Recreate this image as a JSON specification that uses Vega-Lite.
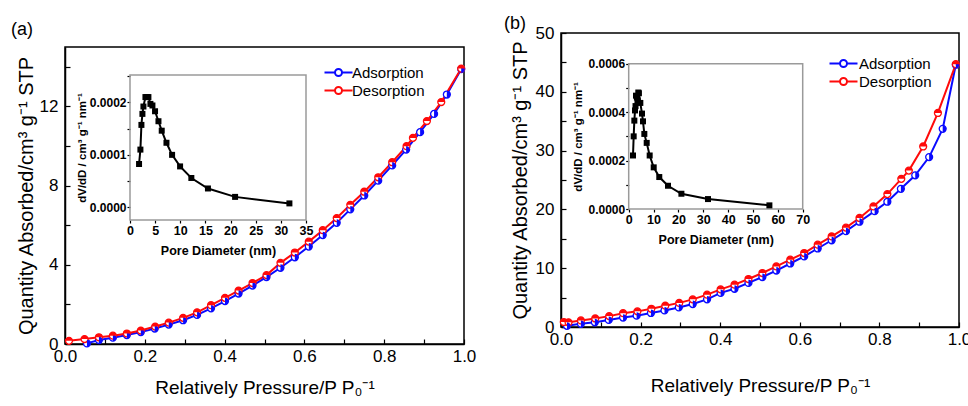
{
  "$schema": "https://vega.github.io/schema/vega-lite/v6.json",
  "padding": {"left": 10, "top": 4, "right": 5, "bottom": 0},
  "spacing": 26,
  "config": {
    "font": "Liberation Sans",
    "view": {"stroke": "black", "strokeWidth": 1.5},
    "axis": {"grid": false, "domainColor": "black", "tickColor": "black", "labelColor": "black", "titleColor": "black", "titleFontWeight": "normal", "labelFlush": false, "labelOverlap": false, "domainWidth": 1.5, "tickWidth": 1.2},
    "title": {"color": "black", "fontWeight": "normal", "fontSize": 18, "anchor": "start", "frame": "group"},
    "legend": {"labelColor": "black", "labelFont": "Liberation Sans"}
  },
  "resolve": {"scale": {"color": "independent"}, "legend": {"color": "independent"}},
  "hconcat": [
    {"spacing": 15, "vconcat": [
    {"width": 1, "height": 1, "data": {"values": []}, "mark": {"type": "text"}, "encoding": {}, "view": {"stroke": null}},
    {
      "width": 399,
      "height": 297,
      "title": {"text": "(a)", "dx": -54, "offset": 8},
      "resolve": {"scale": {"x": "independent", "y": "independent"}, "axis": {"x": "independent", "y": "independent"}},
      "layer": [
        {
          "data": {"values": [
            {"p": 0.055, "v": 0.03, "s": "Adsorption"}, {"p": 0.085, "v": 0.2, "s": "Adsorption"}, {"p": 0.12, "v": 0.32, "s": "Adsorption"}, {"p": 0.155, "v": 0.45, "s": "Adsorption"}, {"p": 0.19, "v": 0.6, "s": "Adsorption"}, {"p": 0.225, "v": 0.78, "s": "Adsorption"}, {"p": 0.26, "v": 0.98, "s": "Adsorption"}, {"p": 0.296, "v": 1.2, "s": "Adsorption"}, {"p": 0.331, "v": 1.47, "s": "Adsorption"}, {"p": 0.366, "v": 1.8, "s": "Adsorption"}, {"p": 0.401, "v": 2.17, "s": "Adsorption"}, {"p": 0.435, "v": 2.55, "s": "Adsorption"}, {"p": 0.47, "v": 2.95, "s": "Adsorption"}, {"p": 0.505, "v": 3.38, "s": "Adsorption"}, {"p": 0.54, "v": 3.85, "s": "Adsorption"}, {"p": 0.576, "v": 4.38, "s": "Adsorption"}, {"p": 0.611, "v": 4.92, "s": "Adsorption"}, {"p": 0.646, "v": 5.5, "s": "Adsorption"}, {"p": 0.681, "v": 6.12, "s": "Adsorption"}, {"p": 0.715, "v": 6.8, "s": "Adsorption"}, {"p": 0.75, "v": 7.5, "s": "Adsorption"}, {"p": 0.785, "v": 8.25, "s": "Adsorption"}, {"p": 0.82, "v": 9.02, "s": "Adsorption"}, {"p": 0.855, "v": 9.82, "s": "Adsorption"}, {"p": 0.89, "v": 10.7, "s": "Adsorption"}, {"p": 0.925, "v": 11.62, "s": "Adsorption"}, {"p": 0.957, "v": 12.6, "s": "Adsorption"}, {"p": 0.993, "v": 13.88, "s": "Adsorption"},
            {"p": 0.01, "v": 0.16, "s": "Desorption"}, {"p": 0.049, "v": 0.25, "s": "Desorption"}, {"p": 0.085, "v": 0.34, "s": "Desorption"}, {"p": 0.12, "v": 0.42, "s": "Desorption"}, {"p": 0.155, "v": 0.53, "s": "Desorption"}, {"p": 0.19, "v": 0.68, "s": "Desorption"}, {"p": 0.226, "v": 0.88, "s": "Desorption"}, {"p": 0.26, "v": 1.08, "s": "Desorption"}, {"p": 0.296, "v": 1.32, "s": "Desorption"}, {"p": 0.331, "v": 1.6, "s": "Desorption"}, {"p": 0.366, "v": 1.96, "s": "Desorption"}, {"p": 0.401, "v": 2.33, "s": "Desorption"}, {"p": 0.435, "v": 2.7, "s": "Desorption"}, {"p": 0.47, "v": 3.08, "s": "Desorption"}, {"p": 0.505, "v": 3.48, "s": "Desorption"}, {"p": 0.54, "v": 4.1, "s": "Desorption"}, {"p": 0.576, "v": 4.62, "s": "Desorption"}, {"p": 0.611, "v": 5.17, "s": "Desorption"}, {"p": 0.646, "v": 5.75, "s": "Desorption"}, {"p": 0.681, "v": 6.36, "s": "Desorption"}, {"p": 0.715, "v": 7.03, "s": "Desorption"}, {"p": 0.75, "v": 7.69, "s": "Desorption"}, {"p": 0.785, "v": 8.42, "s": "Desorption"}, {"p": 0.82, "v": 9.18, "s": "Desorption"}, {"p": 0.856, "v": 9.99, "s": "Desorption"}, {"p": 0.872, "v": 10.41, "s": "Desorption"}, {"p": 0.907, "v": 11.26, "s": "Desorption"}, {"p": 0.943, "v": 12.22, "s": "Desorption"}, {"p": 0.993, "v": 13.91, "s": "Desorption"}
          ]},
          "encoding": {
            "x": {"field": "p", "type": "quantitative", "scale": {"domain": [0, 1], "nice": false},
                  "axis": {"title": "Relatively Pressure/P P₀⁻¹", "values": [0, 0.1, 0.2, 0.3, 0.4, 0.5, 0.6, 0.7, 0.8, 0.9, 1], "labelExpr": "round(datum.value*10) % 2 == 0 ? format(datum.value, '.1f') : ''", "tickSize": -5, "labelPadding": 9, "labelFontSize": 17, "titleFontSize": 19, "titlePadding": 14}},
            "y": {"field": "v", "type": "quantitative", "scale": {"domain": [0, 15], "nice": false},
                  "axis": {"title": "Quantity Absorbed/cm³ g⁻¹ STP", "values": [0, 2, 4, 6, 8, 10, 12, 14], "labelExpr": "datum.value % 4 == 0 ? format(datum.value, 'd') : ''", "tickSize": -5, "labelPadding": 12, "labelFontSize": 17, "titleFontSize": 20, "titlePadding": 3}}
          },
          "layer": [
            {"mark": {"type": "line", "strokeWidth": 2},
             "encoding": {"color": {"field": "s", "type": "nominal", "scale": {"domain": ["Adsorption", "Desorption"], "range": ["#0a0aff", "#ff0a0a"]},
                      "legend": {"orient": "none", "legendX": 266, "legendY": 61, "title": null, "symbolType": "M-2.8,0H-0.7M0.7,0H2.8M-0.7,0A0.7,0.7 0 1,0 0.7,0A0.7,0.7 0 1,0 -0.7,0", "symbolSize": 100, "symbolStrokeWidth": 2, "labelFontSize": 15, "labelOffset": 6, "rowPadding": 2}}}},
            {"mark": {"type": "point", "shape": "circle", "filled": false, "fill": "white", "opacity": 1, "size": 48, "strokeWidth": 1.3},
             "encoding": {"stroke": {"field": "s", "type": "nominal", "scale": {"domain": ["Adsorption", "Desorption"], "range": ["#0a0aff", "#ff0a0a"]}, "legend": null}}},
            {"mark": {"type": "point", "filled": true, "opacity": 1, "size": 48},
             "encoding": {"fill": {"field": "s", "type": "nominal", "scale": {"domain": ["Adsorption", "Desorption"], "range": ["#0a0aff", "#ff0a0a"]}, "legend": null},
                          "shape": {"field": "s", "type": "nominal", "scale": {"domain": ["Adsorption", "Desorption"], "range": ["M0,-1A1,1 0 0,1 0,1Z", "M-1,0A1,1 0 0,1 1,0Z"]}, "legend": null}}}
          ]
        },
        {
          "data": {"values": [
            {"d": 1.8, "dv": 0.0000826}, {"d": 2.07, "dv": 0.00011}, {"d": 2.27, "dv": 0.000157}, {"d": 2.47, "dv": 0.000178}, {"d": 2.67, "dv": 0.000192}, {"d": 3.07, "dv": 0.00021}, {"d": 3.35, "dv": 0.00021}, {"d": 3.66, "dv": 0.00021}, {"d": 4.06, "dv": 0.000197}, {"d": 4.46, "dv": 0.000194}, {"d": 4.98, "dv": 0.000183}, {"d": 5.66, "dv": 0.000164}, {"d": 6.31, "dv": 0.000146}, {"d": 7.25, "dv": 0.000123}, {"d": 8.37, "dv": 0.0001}, {"d": 9.96, "dv": 0.000078}, {"d": 12.2, "dv": 0.000056}, {"d": 15.5, "dv": 0.000036}, {"d": 20.9, "dv": 0.00002}, {"d": 31.7, "dv": 0.0000076}
          ]},
          "encoding": {
            "x": {"field": "d", "type": "quantitative", "scale": {"domain": [0, 35], "range": [65, 241], "nice": false, "zero": false},
                  "axis": {"orient": "bottom", "offset": -124, "title": "Pore Diameter (nm)", "values": [0, 5, 10, 15, 20, 25, 30, 35], "domain": false, "tickSize": 3, "labelPadding": 1, "labelFontSize": 12.5, "labelFontWeight": "bold", "titleFontSize": 12.5, "titleFontWeight": "bold", "titlePadding": 8}},
            "y": {"field": "dv", "type": "quantitative", "scale": {"domain": [-0.000024, 0.000252], "range": [173, 28], "nice": false, "zero": false},
                  "axis": {"orient": "left", "offset": -65, "title": "dV/dD / cm³ g⁻¹ nm⁻¹", "values": [0, 0.00005, 0.0001, 0.00015, 0.0002, 0.00025], "labelExpr": "round(datum.value*20000) % 2 == 0 ? format(datum.value, '.4f') : ''", "domain": false, "tickSize": 3, "labelPadding": 1, "labelFontSize": 12, "labelFontWeight": "bold", "titleFontSize": 11.5, "titleFontWeight": "bold", "titlePadding": 2}}
          },
          "layer": [
            {"mark": {"type": "rect", "fill": "transparent", "stroke": "#9a9a9a", "strokeWidth": 1.5, "opacity": 1}, "data": {"values": [{"d0": 0, "d1": 35, "v0": -0.000024, "v1": 0.000252}]},
             "encoding": {"x": {"field": "d0", "type": "quantitative"}, "x2": {"field": "d1"}, "y": {"field": "v0", "type": "quantitative"}, "y2": {"field": "v1"}}},
            {"mark": {"type": "line", "color": "black", "strokeWidth": 2}},
            {"mark": {"type": "point", "shape": "square", "filled": true, "color": "black", "opacity": 1, "size": 36}}
          ]
        }
      ]
    }
    ]},
    {"spacing": 9, "vconcat": [
    {"width": 1, "height": 1, "data": {"values": []}, "mark": {"type": "text"}, "encoding": {}, "view": {"stroke": null}},
    {
      "width": 398,
      "height": 294,
      "title": {"text": "(b)", "dx": -57, "offset": -9},
      "resolve": {"scale": {"x": "independent", "y": "independent"}, "axis": {"x": "independent", "y": "independent"}},
      "layer": [
        {
          "data": {"values": [
            {"p": 0.015, "v": 0.2, "s": "Adsorption"}, {"p": 0.05, "v": 0.55, "s": "Adsorption"}, {"p": 0.085, "v": 0.8, "s": "Adsorption"}, {"p": 0.12, "v": 1.2, "s": "Adsorption"}, {"p": 0.156, "v": 1.6, "s": "Adsorption"}, {"p": 0.19, "v": 1.92, "s": "Adsorption"}, {"p": 0.226, "v": 2.38, "s": "Adsorption"}, {"p": 0.26, "v": 2.82, "s": "Adsorption"}, {"p": 0.296, "v": 3.33, "s": "Adsorption"}, {"p": 0.331, "v": 3.9, "s": "Adsorption"}, {"p": 0.367, "v": 4.7, "s": "Adsorption"}, {"p": 0.401, "v": 5.8, "s": "Adsorption"}, {"p": 0.436, "v": 6.5, "s": "Adsorption"}, {"p": 0.471, "v": 7.5, "s": "Adsorption"}, {"p": 0.506, "v": 8.5, "s": "Adsorption"}, {"p": 0.541, "v": 9.6, "s": "Adsorption"}, {"p": 0.576, "v": 10.8, "s": "Adsorption"}, {"p": 0.611, "v": 12.0, "s": "Adsorption"}, {"p": 0.645, "v": 13.35, "s": "Adsorption"}, {"p": 0.68, "v": 14.75, "s": "Adsorption"}, {"p": 0.716, "v": 16.3, "s": "Adsorption"}, {"p": 0.75, "v": 17.9, "s": "Adsorption"}, {"p": 0.788, "v": 19.7, "s": "Adsorption"}, {"p": 0.82, "v": 21.3, "s": "Adsorption"}, {"p": 0.854, "v": 23.5, "s": "Adsorption"}, {"p": 0.89, "v": 25.8, "s": "Adsorption"}, {"p": 0.925, "v": 28.9, "s": "Adsorption"}, {"p": 0.959, "v": 33.7, "s": "Adsorption"}, {"p": 0.992, "v": 44.6, "s": "Adsorption"},
            {"p": 0.007, "v": 0.85, "s": "Desorption"}, {"p": 0.019, "v": 0.8, "s": "Desorption"}, {"p": 0.05, "v": 1.12, "s": "Desorption"}, {"p": 0.086, "v": 1.45, "s": "Desorption"}, {"p": 0.121, "v": 1.85, "s": "Desorption"}, {"p": 0.156, "v": 2.35, "s": "Desorption"}, {"p": 0.192, "v": 2.66, "s": "Desorption"}, {"p": 0.227, "v": 3.1, "s": "Desorption"}, {"p": 0.262, "v": 3.62, "s": "Desorption"}, {"p": 0.297, "v": 4.1, "s": "Desorption"}, {"p": 0.331, "v": 4.7, "s": "Desorption"}, {"p": 0.367, "v": 5.5, "s": "Desorption"}, {"p": 0.401, "v": 6.4, "s": "Desorption"}, {"p": 0.436, "v": 7.2, "s": "Desorption"}, {"p": 0.471, "v": 8.16, "s": "Desorption"}, {"p": 0.506, "v": 9.18, "s": "Desorption"}, {"p": 0.541, "v": 10.3, "s": "Desorption"}, {"p": 0.576, "v": 11.45, "s": "Desorption"}, {"p": 0.611, "v": 12.58, "s": "Desorption"}, {"p": 0.645, "v": 14.0, "s": "Desorption"}, {"p": 0.68, "v": 15.4, "s": "Desorption"}, {"p": 0.716, "v": 16.9, "s": "Desorption"}, {"p": 0.75, "v": 18.54, "s": "Desorption"}, {"p": 0.785, "v": 20.5, "s": "Desorption"}, {"p": 0.82, "v": 22.6, "s": "Desorption"}, {"p": 0.855, "v": 25.2, "s": "Desorption"}, {"p": 0.874, "v": 26.6, "s": "Desorption"}, {"p": 0.91, "v": 30.7, "s": "Desorption"}, {"p": 0.947, "v": 36.4, "s": "Desorption"}, {"p": 0.992, "v": 44.7, "s": "Desorption"}
          ]},
          "encoding": {
            "x": {"field": "p", "type": "quantitative", "scale": {"domain": [0, 1], "nice": false},
                  "axis": {"title": "Relatively Pressure/P P₀⁻¹", "values": [0, 0.1, 0.2, 0.3, 0.4, 0.5, 0.6, 0.7, 0.8, 0.9, 1], "labelExpr": "round(datum.value*10) % 2 == 0 ? format(datum.value, '.1f') : ''", "tickSize": -5, "labelPadding": 9, "labelFontSize": 17, "titleFontSize": 19, "titlePadding": 29}},
            "y": {"field": "v", "type": "quantitative", "scale": {"domain": [0, 50], "nice": false},
                  "axis": {"title": "Quantity Absorbed/cm³ g⁻¹ STP", "values": [0, 5, 10, 15, 20, 25, 30, 35, 40, 45, 50], "labelExpr": "datum.value % 10 == 0 ? format(datum.value, 'd') : ''", "tickSize": -5, "labelPadding": 12, "labelFontSize": 17, "titleFontSize": 20, "titlePadding": 5}}
          },
          "layer": [
            {"mark": {"type": "line", "strokeWidth": 2},
             "encoding": {"color": {"field": "s", "type": "nominal", "scale": {"domain": ["Adsorption", "Desorption"], "range": ["#0a0aff", "#ff0a0a"]},
                      "legend": {"orient": "none", "legendX": 275, "legendY": 52, "title": null, "symbolType": "M-2.8,0H-0.7M0.7,0H2.8M-0.7,0A0.7,0.7 0 1,0 0.7,0A0.7,0.7 0 1,0 -0.7,0", "symbolSize": 100, "symbolStrokeWidth": 2, "labelFontSize": 15, "labelOffset": 8, "rowPadding": 2}}}},
            {"mark": {"type": "point", "shape": "circle", "filled": false, "fill": "white", "opacity": 1, "size": 48, "strokeWidth": 1.3},
             "encoding": {"stroke": {"field": "s", "type": "nominal", "scale": {"domain": ["Adsorption", "Desorption"], "range": ["#0a0aff", "#ff0a0a"]}, "legend": null}}},
            {"mark": {"type": "point", "filled": true, "opacity": 1, "size": 48},
             "encoding": {"fill": {"field": "s", "type": "nominal", "scale": {"domain": ["Adsorption", "Desorption"], "range": ["#0a0aff", "#ff0a0a"]}, "legend": null},
                          "shape": {"field": "s", "type": "nominal", "scale": {"domain": ["Adsorption", "Desorption"], "range": ["M0,-1A1,1 0 0,1 0,1Z", "M-1,0A1,1 0 0,1 1,0Z"]}, "legend": null}}}
          ]
        },
        {
          "data": {"values": [
            {"d": 1.73, "dv": 0.000221}, {"d": 2.0, "dv": 0.0003}, {"d": 2.27, "dv": 0.000365}, {"d": 2.54, "dv": 0.000407}, {"d": 2.75, "dv": 0.000425}, {"d": 2.94, "dv": 0.000468}, {"d": 3.3, "dv": 0.00046}, {"d": 3.6, "dv": 0.000448}, {"d": 3.87, "dv": 0.000481}, {"d": 4.1, "dv": 0.000478}, {"d": 4.68, "dv": 0.000438}, {"d": 5.35, "dv": 0.000394}, {"d": 5.75, "dv": 0.000362}, {"d": 6.29, "dv": 0.00031}, {"d": 7.24, "dv": 0.000273}, {"d": 8.44, "dv": 0.000221}, {"d": 10.06, "dv": 0.000172}, {"d": 12.3, "dv": 0.000132}, {"d": 15.8, "dv": 0.000096}, {"d": 21.2, "dv": 0.000063}, {"d": 31.9, "dv": 0.000041}, {"d": 56.6, "dv": 0.000015}
          ]},
          "encoding": {
            "x": {"field": "d", "type": "quantitative", "scale": {"domain": [0, 70], "range": [67.7, 241.7], "nice": false, "zero": false},
                  "axis": {"orient": "bottom", "offset": -118, "title": "Pore Diameter (nm)", "values": [0, 10, 20, 30, 40, 50, 60, 70], "domain": false, "tickSize": 3, "labelPadding": 1, "labelFontSize": 12.5, "labelFontWeight": "bold", "titleFontSize": 12.5, "titleFontWeight": "bold", "titlePadding": 8}},
            "y": {"field": "dv", "type": "quantitative", "scale": {"domain": [0, 0.0006], "range": [176, 30.7], "nice": false, "zero": false},
                  "axis": {"orient": "left", "offset": -67.7, "title": "dV/dD / cm³ g⁻¹ nm⁻¹", "values": [0, 0.0001, 0.0002, 0.0003, 0.0004, 0.0005, 0.0006], "labelExpr": "round(datum.value*10000) % 2 == 0 ? format(datum.value, '.4f') : ''", "domain": false, "tickSize": 3, "labelPadding": 1, "labelFontSize": 12, "labelFontWeight": "bold", "titleFontSize": 11.5, "titleFontWeight": "bold", "titlePadding": 4}}
          },
          "layer": [
            {"mark": {"type": "rect", "fill": "transparent", "stroke": "#9a9a9a", "strokeWidth": 1.5, "opacity": 1}, "data": {"values": [{"d0": 0, "d1": 70, "v0": 0, "v1": 0.0006}]},
             "encoding": {"x": {"field": "d0", "type": "quantitative"}, "x2": {"field": "d1"}, "y": {"field": "v0", "type": "quantitative"}, "y2": {"field": "v1"}}},
            {"mark": {"type": "line", "color": "black", "strokeWidth": 2}},
            {"mark": {"type": "point", "shape": "square", "filled": true, "color": "black", "opacity": 1, "size": 36}}
          ]
        }
      ]
    }
    ]}
  ]
}
